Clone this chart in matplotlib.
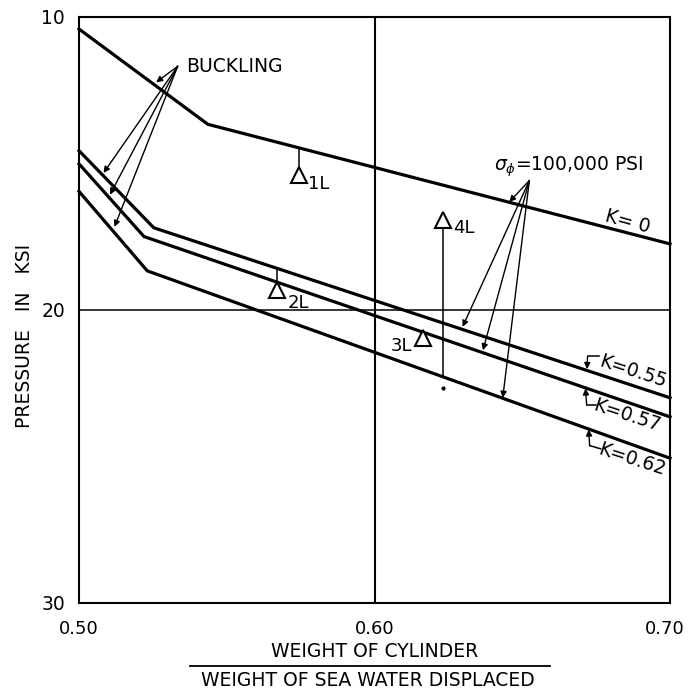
import matplotlib
matplotlib.use("Agg")
import matplotlib.pyplot as plt
from matplotlib.lines import Line2D
from matplotlib.transforms import ScaledTranslation

plt.rcParams['font.family'] = ['DejaVu Sans']

# weight ratio vs collapse pressure, one broken line per K value
x_k0 = [0.50, 0.5436, 0.70]
y_k0 = [10.42, 13.67, 17.75]
x_k55 = [0.50, 0.5253, 0.70]
y_k55 = [14.57, 17.20, 23.00]
x_k57 = [0.50, 0.5220, 0.70]
y_k57 = [15.02, 17.50, 23.65]
x_k62 = [0.50, 0.5231, 0.70]
y_k62 = [15.96, 18.67, 25.06]

# test models
test_names = ['1L', '2L', '3L', '4L']
test_x = [0.5744, 0.5671, 0.6165, 0.6231]
test_y = [15.39, 19.31, 20.95, 16.92]
label_x = [0.5774, 0.5705, 0.6090, 0.6266]
label_y = [15.70, 19.76, 21.24, 17.22]
# stems: x, top, bottom
stem_x = [0.5744, 0.5671, 0.6231]
stem_top = [14.47, 18.59, 17.14]
stem_bot = [15.19, 19.02, 22.26]
dot_x = [0.6233]
dot_y = [22.68]

# annotation arrows
buckling_from = (0.5334, 11.69)
buckling_to_x = [0.5261, 0.5083, 0.5105, 0.5120]
buckling_to_y = [12.24, 15.33, 16.07, 17.17]
sigma_from = (0.6524, 15.59)
sigma_to_x = [0.6456, 0.6298, 0.6367, 0.6434]
sigma_to_y = [16.32, 20.58, 21.38, 23.00]

# K labels and their leader hooks: tip on the line, corner, end
k_labels = ['K=0.55', 'K=0.57', 'K=0.62']
k_label_x = [0.6873, 0.6855, 0.6870]
k_label_y = [22.10, 23.62, 25.10]
hook_tip_x = [0.6719, 0.6714, 0.6725]
hook_tip_y = [22.02, 22.68, 24.08]
hook_corner_x = [0.6721, 0.6718, 0.6728]
hook_corner_y = [21.59, 23.25, 24.63]
hook_end_x = [0.6759, 0.6749, 0.6765]
hook_end_y = [21.59, 23.25, 24.74]

fig = plt.figure(figsize=(6.89, 6.95), dpi=100)
ax = fig.add_axes([79/689, 1-603/695, 591/689, (603-16.7)/695])

ax.set_xlim(0.50, 0.70)
ax.set_ylim(30, 10)
ax.set_xticks([0.50, 0.60, 0.70])
ax.set_xticklabels(['0.50', '0.60', '0.70'], fontsize=13)
ax.set_yticks([10, 20, 30])
ax.set_yticklabels(['10', '20', '30'], fontsize=13.5)
ax.tick_params(axis='x', length=0, pad=12)
ax.tick_params(axis='y', length=0, pad=10)
# last x label sits a little inside the right edge
lab = ax.get_xticklabels()[-1]
lab.set_transform(lab.get_transform() + ScaledTranslation(-4/72, 0, fig.dpi_scale_trans))
for s in ax.spines.values():
    s.set_linewidth(1.5)
ax.axvline(0.60, color='k', lw=1.5)
ax.axhline(20, color='k', lw=1.1)

for xs, ys in [(x_k0, y_k0), (x_k55, y_k55), (x_k57, y_k57), (x_k62, y_k62)]:
    ax.plot(xs, ys, color='k', lw=2.3, solid_joinstyle='miter', clip_on=False)

for i in range(len(stem_x)):
    ax.plot([stem_x[i], stem_x[i]], [stem_top[i], stem_bot[i]], color='k', lw=1.1)
ax.plot(test_x, test_y, ls='none', marker='^', ms=11, mfc='white', mec='k', mew=1.5)
ax.plot(dot_x, dot_y, ls='none', marker='o', ms=2, color='k')
for i, name in enumerate(test_names):
    ha = 'center' if name == '3L' else 'left'
    ax.text(label_x[i], label_y[i], name, fontsize=13, ha=ha, va='center')

arrow = dict(arrowstyle='-|>', color='k', lw=1.0, mutation_scale=9, shrinkA=0, shrinkB=0)
for tx, ty in zip(buckling_to_x, buckling_to_y):
    ax.annotate('', xy=(tx, ty), xytext=buckling_from, arrowprops=arrow)
ax.text(0.5363, 11.69, 'BUCKLING', fontsize=13.5, ha='left', va='center')

for tx, ty in zip(sigma_to_x, sigma_to_y):
    ax.annotate('', xy=(tx, ty), xytext=sigma_from, arrowprops=arrow)
ax.text(0.6404, 15.13, r'$\sigma_\phi$=100,000 PSI', fontsize=13.5, ha='left', va='center')

ax.text(0.6855, 17.0, 'K= 0', fontsize=13.5, ha='center', va='center', rotation=-15)
for i, lab in enumerate(k_labels):
    ax.plot([hook_corner_x[i], hook_end_x[i]], [hook_corner_y[i], hook_end_y[i]], color='k', lw=1.1)
    ax.annotate('', xy=(hook_tip_x[i], hook_tip_y[i]),
                xytext=(hook_corner_x[i], hook_corner_y[i]), arrowprops=arrow)
    ax.text(k_label_x[i], k_label_y[i], lab, fontsize=13.5, ha='center', va='center', rotation=-18)

fig.text(25/689, 1-336/695, 'PRESSURE   IN   KSI', rotation=90, fontsize=13.5,
         ha='center', va='center')
fig.text(375/689, 1-651.7/695, 'WEIGHT OF CYLINDER', fontsize=13.5, ha='center', va='center')
fig.add_artist(Line2D([190/689, 550/689], [1-665.7/695, 1-665.7/695], color='k', lw=1.3))
fig.text(368/689, 1-680/695, 'WEIGHT OF SEA WATER DISPLACED', fontsize=13.5,
         ha='center', va='center')

fig.savefig('out.png', dpi=100)
